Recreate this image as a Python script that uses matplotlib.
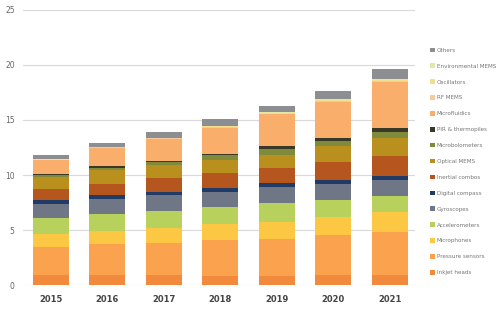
import matplotlib
matplotlib.use("Agg")
import matplotlib.pyplot as plt
import numpy as np
from matplotlib.patches import Patch

years = ["2015", "2016", "2017", "2018", "2019", "2020", "2021"]

# bottom -> top stacking order
segments = ["Inkjet heads", "Pressure sensors", "Microphones", "Accelerometers",
            "Gyroscopes", "Digital compass", "Inertial combos", "Optical MEMS",
            "Microbolometers", "PIR & thermopiles", "Microfluidics", "RF MEMS",
            "Oscillators", "Environmental MEMS", "Others"]

inkjet_heads      = [0.90, 0.90, 0.90, 0.82, 0.82, 0.90, 0.90]
pressure_sensors  = [2.57, 2.79, 2.94, 3.27, 3.36, 3.64, 3.90]
microphones       = [1.20, 1.21, 1.36, 1.43, 1.57, 1.67, 1.82]
accelerometers    = [1.45, 1.60, 1.55, 1.60, 1.67, 1.50, 1.50]
gyroscopes        = [1.27, 1.36, 1.43, 1.36, 1.45, 1.50, 1.45]
digital_compass   = [0.30, 0.30, 0.30, 0.36, 0.36, 0.36, 0.36]
inertial_combos   = [1.00, 1.06, 1.21, 1.36, 1.45, 1.60, 1.82]
optical_mems      = [1.15, 1.25, 1.25, 1.15, 1.12, 1.50, 1.60]
microbolometers   = [0.20, 0.20, 0.25, 0.45, 0.55, 0.45, 0.60]
pir_thermopiles   = [0.08, 0.12, 0.12, 0.15, 0.27, 0.20, 0.36]
microfluidics     = [1.21, 1.70, 1.97, 2.36, 2.90, 3.33, 4.10]
rf_mems           = [0.03, 0.03, 0.04, 0.05, 0.06, 0.08, 0.10]
oscillators       = [0.03, 0.03, 0.04, 0.05, 0.06, 0.10, 0.12]
environmental     = [0.03, 0.03, 0.03, 0.04, 0.06, 0.08, 0.10]
others            = [0.36, 0.36, 0.50, 0.60, 0.60, 0.75, 0.90]

values = [inkjet_heads, pressure_sensors, microphones, accelerometers, gyroscopes,
          digital_compass, inertial_combos, optical_mems, microbolometers,
          pir_thermopiles, microfluidics, rf_mems, oscillators, environmental, others]

colors = ["#F28A3E", "#FBA24E", "#FCC843", "#B7D15C", "#6F7686", "#1F3B66",
          "#B5561F", "#B98F1E", "#7F8B3A", "#3A3826", "#F9AE6C", "#F6CB9A",
          "#F1DE8E", "#E3E8A6", "#8D8E92"]

fig = plt.figure(figsize=(5.0, 3.12), dpi=100)
ax = fig.add_axes([0.046, 0.0865, 0.784, 0.8815])

x = np.arange(len(years))
bottom = np.zeros(len(years))
handles = []
for name, vals, col in zip(segments, values, colors):
    v = np.array(vals)
    ax.bar(x, v, width=0.64, bottom=bottom, color=col, edgecolor="none", zorder=3)
    bottom += v
    handles.append(Patch(facecolor=col, edgecolor="none", label=name))

ax.set_ylim(0, 25)
ax.set_xlim(-0.49, 6.45)
ax.set_yticks([0, 5, 10, 15, 20, 25])
ax.yaxis.grid(True, color="#D9D9D9", linewidth=0.8, zorder=0)
ax.set_axisbelow(True)
for s in ax.spines.values():
    s.set_visible(False)
ax.tick_params(axis="y", length=0, pad=6, labelsize=5.5, labelcolor="#666666")
ax.tick_params(axis="x", length=0, pad=7, labelsize=6, labelcolor="#444444")
ax.set_xticks(x)
ax.set_xticklabels(years, fontweight="bold")

leg = fig.legend(handles=handles[::-1], loc="upper left",
                 bbox_to_anchor=(0.856, 0.855), frameon=False,
                 fontsize=4.1, labelspacing=1.87, handlelength=0.85,
                 handleheight=0.85, handletextpad=0.3, borderaxespad=0)
for t in leg.get_texts():
    t.set_color("#777777")

fig.savefig("out.png", dpi=100)
